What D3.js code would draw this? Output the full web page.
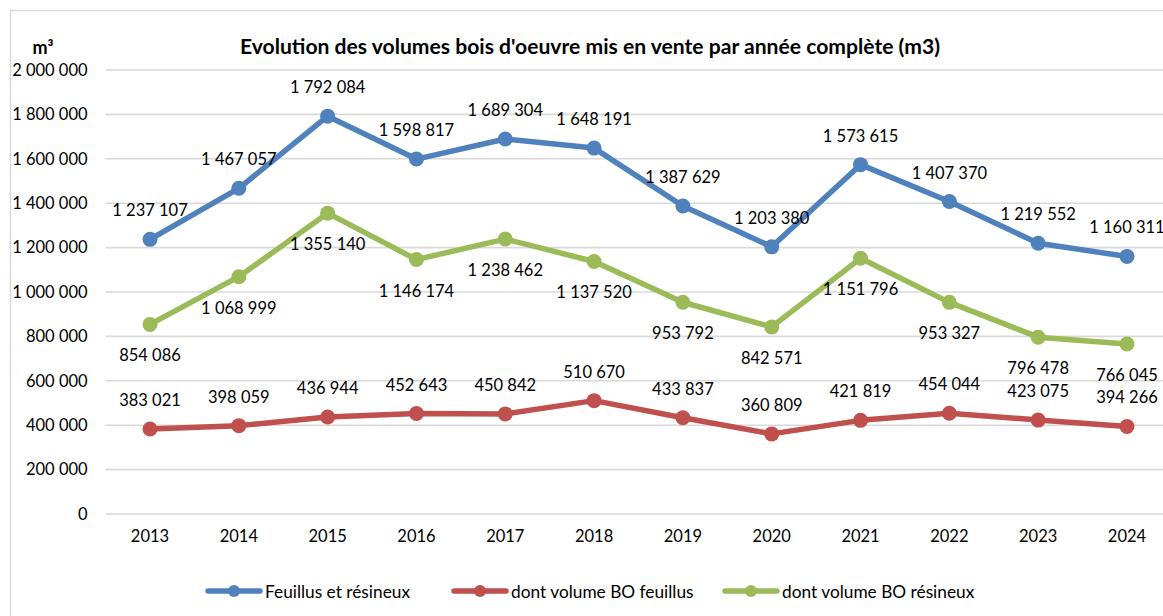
<!DOCTYPE html>
<html><head><meta charset="utf-8">
<script src="https://cdn.jsdelivr.net/npm/d3@7"></script>
<style>
html,body{margin:0;padding:0;background:#fff;}
svg text{font-family:Lato,"Open Sans",sans-serif;fill:#000;}
</style></head>
<body>
<svg id="chart" width="1163" height="616"></svg>
<script>
const years = ["2013","2014","2015","2016","2017","2018","2019","2020","2021","2022","2023","2024"];
const totalValues = [1237107,1467057,1792084,1598817,1689304,1648191,1387629,1203380,1573615,1407370,1219552,1160311];
const feuillusValues = [383021,398059,436944,452643,450842,510670,433837,360809,421819,454044,423075,394266];
const resineuxValues = [854086,1068999,1355140,1146174,1238462,1137520,953792,842571,1151796,953327,796478,766045];
const yTicks = [0,200000,400000,600000,800000,1000000,1200000,1400000,1600000,1800000,2000000];
const seriesNames = ["Feuillus et résineux","dont volume BO feuillus","dont volume BO résineux"];
const titleText = "Evolution des volumes bois d'oeuvre mis en vente par année complète (m3)";
const unitText = "m³";

const series = [
  {name: seriesNames[0], values: totalValues, color: "#4F81BD", labelPos: "above"},
  {name: seriesNames[1], values: feuillusValues, color: "#C0504D", labelPos: "above"},
  {name: seriesNames[2], values: resineuxValues, color: "#9BBB59", labelPos: "below"}
];

const svg = d3.select("#chart");
const fmt = v => d3.format(",")(v).replace(/,/g, " ");

// chart area border
svg.append("rect").attr("x",10.5).attr("y",10.5).attr("width",1200).attr("height",700)
  .attr("fill","none").attr("stroke","#d9d9d9").attr("stroke-width",1.5);

const plotLeft = 105.6, plotRight = 1171.4, plotTop = 70, plotBottom = 514;
const x = d3.scaleBand().domain(years).range([plotLeft, plotRight]);
const y = d3.scaleLinear().domain([0, 2000000]).range([plotBottom, plotTop]);
const cx = d => x(d) + x.bandwidth()/2;

// gridlines
svg.append("g").selectAll("line").data(yTicks).join("line")
  .attr("x1", plotLeft).attr("x2", plotRight)
  .attr("y1", d => y(d)).attr("y2", d => y(d))
  .attr("stroke","#d9d9d9").attr("stroke-width",1.6);

// y axis
const yAxis = svg.append("g").attr("transform",`translate(${plotLeft},0)`)
  .call(d3.axisLeft(y).tickValues(yTicks).tickFormat(fmt).tickSize(0).tickPadding(18));
yAxis.select(".domain").remove();
yAxis.selectAll("text").attr("font-size","16.5px").attr("font-family","Lato").attr("fill","#000");

// x axis
const xAxis = svg.append("g").attr("transform",`translate(0,${plotBottom})`)
  .call(d3.axisBottom(x).tickSize(0).tickPadding(16));
xAxis.select(".domain").remove();
xAxis.selectAll("text").attr("font-size","16.5px").attr("font-family","Lato").attr("fill","#000");

// title + unit
svg.append("text").attr("x",590).attr("y",45.5).attr("text-anchor","middle")
  .attr("dominant-baseline","central").attr("font-weight","bold").attr("font-size","20.5px")
  .attr("textLength",700).attr("lengthAdjust","spacingAndGlyphs")
  .text(titleText);
svg.append("text").attr("x",43).attr("y",47).attr("text-anchor","middle")
  .attr("dominant-baseline","central").attr("font-weight","bold").attr("font-size","18px")
  .text(unitText);

const line = d3.line().x((d,i) => cx(years[i])).y(d => y(d));

series.forEach(s => {
  const g = svg.append("g");
  g.append("path").datum(s.values).attr("d", line).attr("fill","none")
    .attr("stroke", s.color).attr("stroke-width",5.5).attr("stroke-linejoin","round");
  g.selectAll("circle").data(s.values).join("circle")
    .attr("cx",(d,i)=>cx(years[i])).attr("cy",d=>y(d)).attr("r",7.5).attr("fill",s.color);
});
series.forEach(s => {
  svg.append("g").selectAll("text").data(s.values).join("text")
    .attr("x",(d,i)=>cx(years[i]))
    .attr("y",d=> y(d) + (s.labelPos === "above" ? -29 : 31))
    .attr("text-anchor","middle").attr("dominant-baseline","central")
    .attr("font-size","16.5px").text(fmt);
});

// legend
const legendX = [206, 452, 723];
series.forEach((s,i) => {
  const g = svg.append("g").attr("transform",`translate(${legendX[i]},591)`);
  g.append("line").attr("x1",2).attr("x2",54).attr("y1",0).attr("y2",0)
    .attr("stroke",s.color).attr("stroke-width",5.5).attr("stroke-linecap","round");
  g.append("circle").attr("cx",28).attr("cy",0).attr("r",6).attr("fill",s.color);
  g.append("text").attr("x",59).attr("y",0).attr("dominant-baseline","central")
    .attr("font-size","17.3px").text(s.name);
});
</script>
</body></html>
